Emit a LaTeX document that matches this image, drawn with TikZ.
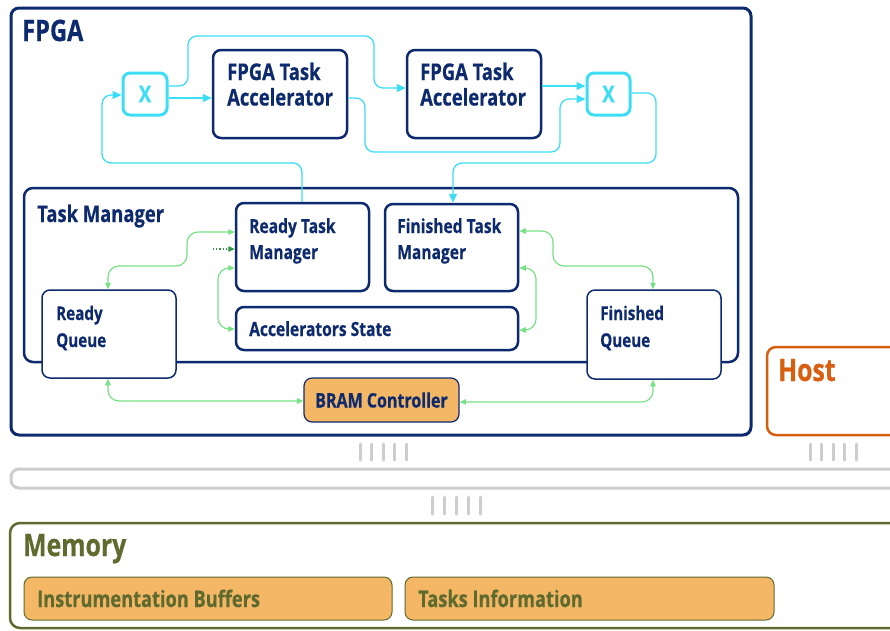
\documentclass[tikz,border=0pt]{standalone}
\usepackage{fontspec}
\setmainfont{Open Sans}[FakeStretch=0.8, BoldFeatures={FakeBold=0.5}]
\usetikzlibrary{arrows.meta}

\definecolor{navy}{RGB}{14,42,110}
\definecolor{aqua}{RGB}{60,222,245}
\definecolor{mint}{RGB}{120,225,135}
\definecolor{leaf}{RGB}{50,150,70}
\definecolor{apricot}{RGB}{243,183,102}
\definecolor{rust}{RGB}{215,95,15}
\definecolor{olive}{RGB}{94,106,46}
\definecolor{silver}{RGB}{205,205,205}

% rectangle node from its two corners: name, x1, y1, x2, y2, style
\newcommand\blk[6]{\node[#6, minimum width={(#4)-(#2)}, minimum height={(#5)-(#3)}]
  (#1) at ({((#2)+(#4))/2},{((#3)+(#5))/2}) {};}

\tikzset{
  frame/.style={draw=navy, line width=3pt, rounded corners=8pt, inner sep=0pt},
  unit/.style={draw=navy, line width=2.5pt, rounded corners=8pt, fill=white, inner sep=0pt},
  queue/.style={draw=navy, line width=1.5pt, rounded corners=8pt, fill=white, inner sep=0pt},
  mux/.style={draw=aqua, line width=3pt, rounded corners=7pt, fill=white, inner sep=0pt},
  store/.style={draw=olive, line width=1pt, rounded corners=8pt, fill=apricot, inner sep=0pt},
  % multi-line labels are placed by the baseline of their last line
  txt/.style={anchor=base west, inner sep=0pt, align=left, text=navy},
  big/.style={font=\fontsize{29.5}{31}\selectfont\bfseries},
  mid/.style={font=\fontsize{23}{25.5}\selectfont\bfseries},
  small/.style={font=\fontsize{19.5}{26}\selectfont\bfseries},
  qsmall/.style={font=\fontsize{19}{27}\selectfont\bfseries},
  memtxt/.style={txt, text=olive, font=\fontsize{22.8}{25}\selectfont\bfseries},
  flow/.style={draw=aqua, line width=1.3pt, rounded corners=9pt,
    -{Triangle[length=9pt,width=8pt]}},
  link/.style={draw=mint, line width=1.2pt, rounded corners=11pt,
    {Triangle[length=6.5pt,width=5.5pt]}-{Triangle[length=6.5pt,width=5.5pt]}},
  tick/.style={draw=silver, line width=3pt, line cap=round},
}

\begin{document}
\begin{tikzpicture}[x=1pt, y=-1pt]
\clip (0,0) rectangle (890,630);
\fill[white] (0,0) rectangle (890,630);

% outer containers
\blk{fpga}{11}{8}{751}{435}{frame}
\node[txt, big] (fpgalbl) at (22,41) {FPGA};

\blk{host}{767}{347}{910}{435}{draw=rust, line width=2.5pt, rounded corners=9pt, inner sep=0pt}
\node[txt, text=rust, font=\fontsize{31}{33}\selectfont\bfseries] (hostlbl) at (778,381) {Host};

\blk{mem}{10}{523}{910}{628}{draw=olive, line width=2.5pt, rounded corners=10pt, inner sep=0pt}
\node[txt, text=olive, font=\fontsize{31}{33}\selectfont\bfseries] (memlbl) at (23,556) {Memory};

\blk{bus}{11}{469}{910}{488}{draw=silver, line width=3pt, rounded corners=8pt, inner sep=0pt}

% memory regions
\blk{ibuf}{24}{577}{392}{620}{store}
\node[memtxt] (ibuflbl) at (37,607) {Instrumentation Buffers};
\blk{tinfo}{405}{577}{774}{620}{store}
\node[memtxt] (tinfolbl) at (418,607) {Tasks Information};

% interconnect ticks
\foreach \x in {360,371.5,383,394.5,406} \draw[tick] (\x,444) -- (\x,460);
\foreach \x in {810,821.5,833,844.5,856} \draw[tick] (\x,444) -- (\x,460);
\foreach \x in {432,444,456,468,480} \draw[tick] (\x,497) -- (\x,514);

% accelerators and crossbars
\blk{x1}{123}{73}{167}{115}{mux}
\node[text=aqua, font=\fontsize{23}{25}\selectfont\bfseries, inner sep=0pt] (x1lbl) at (x1) {X};
\blk{x2}{587}{73}{630}{115}{mux}
\node[text=aqua, font=\fontsize{23}{25}\selectfont\bfseries, inner sep=0pt] (x2lbl) at (x2) {X};

\blk{acc1}{213}{50}{347}{138}{unit}
\node[txt, mid] (acc1lbl) at (227,105.5) {FPGA Task\\Accelerator};
\blk{acc2}{407}{50}{541}{138}{unit}
\node[txt, mid] (acc2lbl) at (420,105.5) {FPGA Task\\Accelerator};

% task manager
\blk{tm}{24}{188}{738}{362}{draw=navy, line width=2.5pt, rounded corners=9pt, inner sep=0pt}
\node[txt, mid] (tmlbl) at (37,222) {Task Manager};

\blk{rtm}{236}{203}{369}{291}{unit}
\node[txt, small] (rtmlbl) at (249,259) {Ready Task\\Manager};
\blk{ftm}{385}{204}{518}{291}{unit}
\node[txt, small] (ftmlbl) at (397,259) {Finished Task\\Manager};
\blk{as}{236}{307}{518}{350}{unit}
\node[txt, small] (aslbl) at (249,336) {Accelerators State};

\blk{rq}{42}{290}{176}{378}{queue}
\node[txt, qsmall] (rqlbl) at (56,347) {Ready\\Queue};
\blk{fq}{587}{290}{721}{379}{queue}
\node[txt, qsmall] (fqlbl) at (600,347) {Finished\\Queue};

\blk{bram}{304}{378}{459}{422}{draw=navy, line width=1.2pt, rounded corners=8pt, fill=apricot, inner sep=0pt}
\node[text=navy, font=\fontsize{20}{22}\selectfont\bfseries, inner sep=0pt] (bramlbl) at (381.5,400) {BRAM Controller};

% data paths between crossbars and accelerators
\draw[flow] (x1.east |- 0,86) -- (188,86) -- (188,36) -- (374,36) -- (374,88) -- (acc2.west |- 0,88);
\draw[flow] (x1.east |- 0,98) -- (acc1.west |- 0,98);
\draw[flow] (acc1.east |- 0,98) -- (365,98) -- (365,152) -- (560,152) -- (560,99) -- (x2.west |- 0,99);
\draw[flow] (acc2.east |- 0,86) -- (x2.west |- 0,86);
\draw[flow] (x2.east |- 0,93) -- (656,93) -- (656,163) -- (453,163) -- (ftm.north -| 453,0);
\draw[flow] (rtm.north -| 302,0) -- (302,163) -- (102,163) -- (102,95) -- (x1.west |- 0,95);

% task manager links
\draw[link] (rq.north -| 108,0) -- (108,266) -- (187,266) -- (187,232) -- (rtm.west |- 0,232);
\draw[link] (rtm.west |- 0,268) -- (218,268) -- (218,329) -- (as.west |- 0,329);
\draw[link] (ftm.east |- 0,231) -- (553,231) -- (553,266) -- (653,266) -- (fq.north -| 653,0);
\draw[link] (ftm.east |- 0,268) -- (536,268) -- (536,330) -- (as.east |- 0,330);
\draw[link] (rq.south -| 108,0) -- (108,401) -- (bram.west |- 0,401);
\draw[link] (fq.south -| 653,0) -- (653,402) -- (bram.east |- 0,402);

\coordinate (dotsrc) at (213,249);
\draw[leaf, line width=1.2pt, dotted, -{Triangle[length=6.5pt,width=5.5pt]}] (dotsrc) -- (rtm.west |- dotsrc);
\end{tikzpicture}
\end{document}
